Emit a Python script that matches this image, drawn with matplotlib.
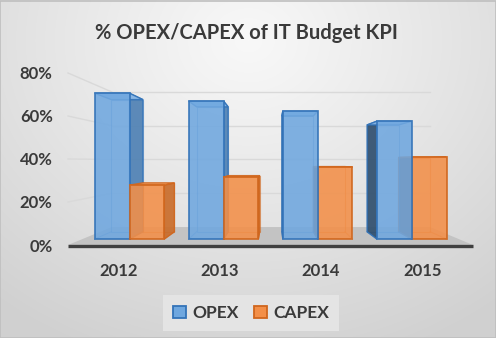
import numpy as np
import matplotlib.pyplot as plt
from matplotlib.patches import Polygon, Patch

years = ['2012', '2013', '2014', '2015']
opex = [73, 69, 64, 59]
capex = [27, 31, 36, 41]
yticks = [0, 20, 40, 60, 80]

plt.rcParams['font.family'] = ['Lato', 'DejaVu Sans']

# perspective of the excel 3d chart (data units of the front plane)
VX, VY = 1.515, 39.0
S_WALL = 0.786
S_FRONT = 0.929
S_BACK = 0.842
BW = 0.37


def proj(x, v, s):
    return (VX + (x - VX) * s, VY + (v - VY) * s)


fig = plt.figure(figsize=(4.96, 3.38), dpi=100)

# background gradient
bg = fig.add_axes([0, 0, 1, 1])
yy, xx = np.mgrid[0:338, 0:496]
r = np.sqrt(((xx - 248) / 1.0) ** 2 + ((yy - 40) / 0.85) ** 2)
g = 248 - 40 * np.clip(r / 400, 0, 1) ** 1.1
img = np.dstack([g, g, g]) / 255
bg.imshow(img, aspect='auto', extent=[0, 1, 0, 1], origin='upper')
bg.set_xlim(0, 1)
bg.set_ylim(0, 1)
bg.axis('off')
bg.add_patch(plt.Rectangle((0.001, 0.001), 0.998, 0.997, fill=False,
                           ec='#bfbfbf', lw=1.2))

ax = fig.add_axes([68 / 496, 93 / 338, 405 / 496, 172 / 338])
ax.patch.set_alpha(0)
ax.set_xlim(-0.5, 3.5)
ax.set_ylim(0, 80)
for sp in ax.spines.values():
    sp.set_visible(False)

# floor
floor = [proj(-0.5, 0, 1), proj(3.5, 0, 1), proj(3.5, 0, S_WALL), proj(-0.5, 0, S_WALL)]
ax.add_patch(Polygon(floor, closed=True, fc='#c3c3c3', ec='none', clip_on=False, zorder=1))
ax.plot([-0.5, 3.5], [-0.5, -0.5], color='#404040', lw=2.4, clip_on=False,
        solid_capstyle='butt', zorder=2)

# gridlines on back wall and left wall
for v in yticks[1:]:
    x0, y0 = proj(-0.5, v, S_WALL)
    x1, y1 = proj(3.5, v, S_WALL)
    ax.plot([x0, x1], [y0, y1], color='#d9d9d9', lw=1, zorder=1, clip_on=False)
    xf, yf = proj(-0.5, v, 1)
    ax.plot([xf, x0], [yf, y0], color='#d9d9d9', lw=1, zorder=1, clip_on=False)

styles = {
    'OPEX': dict(front='#6fa7df', top='#8dbbea', rside='#4c7fb3', lside='#2c4c6c', edge='#3373b8'),
    'CAPEX': dict(front='#f38f48', top='#f6a568', rside='#c96a27', lside='#8a4517', edge='#d0661d'),
}

bars = []
for i in range(len(years)):
    bars.append((i - BW, i, opex[i], 'OPEX'))
    bars.append((i, i + BW, capex[i], 'CAPEX'))
# paint far-from-centre bars first
bars.sort(key=lambda b: -abs((b[0] + b[1]) / 2 - VX))

z = 3
for xl, xr, v, name in bars:
    st = styles[name]
    fbl, fbr = proj(xl, 0, S_FRONT), proj(xr, 0, S_FRONT)
    ftl, ftr = proj(xl, v, S_FRONT), proj(xr, v, S_FRONT)
    bbl, bbr = proj(xl, 0, S_BACK), proj(xr, 0, S_BACK)
    btl, btr = proj(xl, v, S_BACK), proj(xr, v, S_BACK)
    # back edges seen through
    ax.add_patch(Polygon([bbl, bbr, btr, btl], closed=True, fc='none',
                         ec=st['edge'], lw=0.8, alpha=0.5, zorder=z, clip_on=False))
    ax.plot([fbl[0], bbl[0]], [fbl[1], bbl[1]], color=st['edge'], lw=0.8, alpha=0.5, zorder=z)
    ax.plot([fbr[0], bbr[0]], [fbr[1], bbr[1]], color=st['edge'], lw=0.8, alpha=0.5, zorder=z)
    # side face
    if (xl + xr) / 2 < VX:
        ax.add_patch(Polygon([fbr, bbr, btr, ftr], closed=True, fc=st['rside'],
                             ec=st['edge'], lw=1, alpha=0.9, zorder=z + 0.1, clip_on=False))
    else:
        ax.add_patch(Polygon([fbl, bbl, btl, ftl], closed=True, fc=st['lside'],
                             ec=st['edge'], lw=1, alpha=0.9, zorder=z + 0.1, clip_on=False))
    # top face
    ax.add_patch(Polygon([ftl, ftr, btr, btl], closed=True, fc=st['top'],
                         ec=st['edge'], lw=1, alpha=0.9, zorder=z + 0.2, clip_on=False))
    # front face
    ax.add_patch(Polygon([fbl, fbr, ftr, ftl], closed=True, fc=st['front'],
                         ec=st['edge'], lw=1.3, alpha=0.88, zorder=z + 0.3, clip_on=False))
    z += 1

ax.set_yticks(yticks)
ax.set_yticklabels([f'{t}%' for t in yticks])
ax.set_xticks(range(len(years)))
ax.set_xticklabels(years)
ax.tick_params(length=0, labelcolor='#3a3a3a', labelsize=12)
ax.tick_params(axis='y', pad=11)
ax.tick_params(axis='x', pad=13)
for lab in ax.get_xticklabels() + ax.get_yticklabels():
    lab.set_fontweight('bold')

fig.text(0.496, 1 - 33 / 338, '% OPEX/CAPEX of IT Budget KPI', ha='center', va='center',
         fontsize=14.5, color='#3a3a3a', fontweight='bold')

handles = [Patch(fc=styles['OPEX']['front'], ec=styles['OPEX']['edge'], lw=1.3),
           Patch(fc=styles['CAPEX']['front'], ec=styles['CAPEX']['edge'], lw=1.3)]
leg = fig.legend(handles, ['OPEX', 'CAPEX'], loc='center', bbox_to_anchor=(0.506, 1 - 313 / 338),
                 ncol=2, frameon=True, fancybox=False, handlelength=0.75, handleheight=0.75,
                 handletextpad=0.35, columnspacing=0.9, borderpad=0.55,
                 prop=dict(size=12.5, weight='bold'))
leg.get_frame().set_facecolor('#e4e4e4')
leg.get_frame().set_edgecolor('none')
leg.get_frame().set_alpha(1)
for t in leg.get_texts():
    t.set_color('#3a3a3a')

plt.savefig('out.png', dpi=100)
